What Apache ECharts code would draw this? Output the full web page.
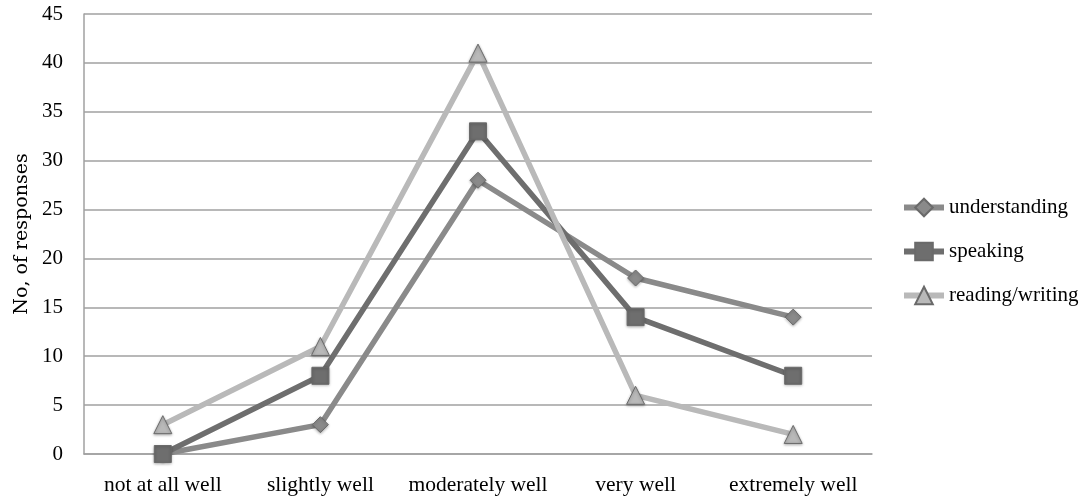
<!DOCTYPE html>
<html><head><meta charset="utf-8">
<script src="https://cdn.jsdelivr.net/npm/echarts@6/dist/echarts.min.js"></script>
<style>html,body{margin:0;padding:0;background:#fff}#c{width:1088px;height:502px}</style>
</head><body><div id="c"></div>
<script>
const categories = ['not at all well','slightly well','moderately well','very well','extremely well'];
const understanding = [0, 3, 28, 18, 14];
const speaking = [0, 8, 33, 14, 8];
const readingWriting = [3, 11, 41, 6, 2];
const yTicks = {min: 0, max: 45, interval: 5};

const font = 'Liberation Serif';
const chart = echarts.init(document.getElementById('c'));
function s(name, data, color, symbol, size){
  return {name, type:'line', data, symbol, symbolSize:size, lineStyle:{width:5.5,color},
    itemStyle:{color, borderColor:'#6a6a6a', borderWidth:1, shadowBlur:3, shadowColor:'rgba(0,0,0,0.3)', shadowOffsetY:1},
    emphasis:{disabled:true}, animation:false};
}
chart.setOption({
  animation:false,
  grid:{left:84,right:216,top:14,bottom:48},
  legend:{orient:'vertical',left:896,top:192,itemGap:23,itemWidth:40,itemHeight:22,
    lineStyle:{width:6},
    textStyle:{fontFamily:font,fontSize:21,color:'#000'},
    data:['understanding','speaking','reading/writing']},
  xAxis:{type:'category',data:categories,boundaryGap:true,
    axisLine:{lineStyle:{color:'#a0a0a0',width:1.5}},axisTick:{show:false},
    axisLabel:{interval:0,fontFamily:font,fontSize:21.5,color:'#000',margin:20}},
  yAxis:{type:'value',min:yTicks.min,max:yTicks.max,interval:yTicks.interval,
    name:'No, of responses',nameLocation:'middle',nameGap:52,
    nameTextStyle:{fontFamily:'DejaVu Serif',fontSize:19,color:'#000'},
    axisLine:{show:true,lineStyle:{color:'#a0a0a0',width:1.5}},axisTick:{show:false},
    splitLine:{lineStyle:{color:'#a0a0a0',width:1.5}},
    axisLabel:{fontFamily:font,fontSize:21,color:'#000',margin:21}},
  series:[
    s('understanding',understanding,'#8a8a8a','diamond',16),
    s('speaking',speaking,'#6e6e6e','rect',17),
    s('reading/writing',readingWriting,'#b9b9b9','triangle',18)
  ]
});
</script></body></html>
